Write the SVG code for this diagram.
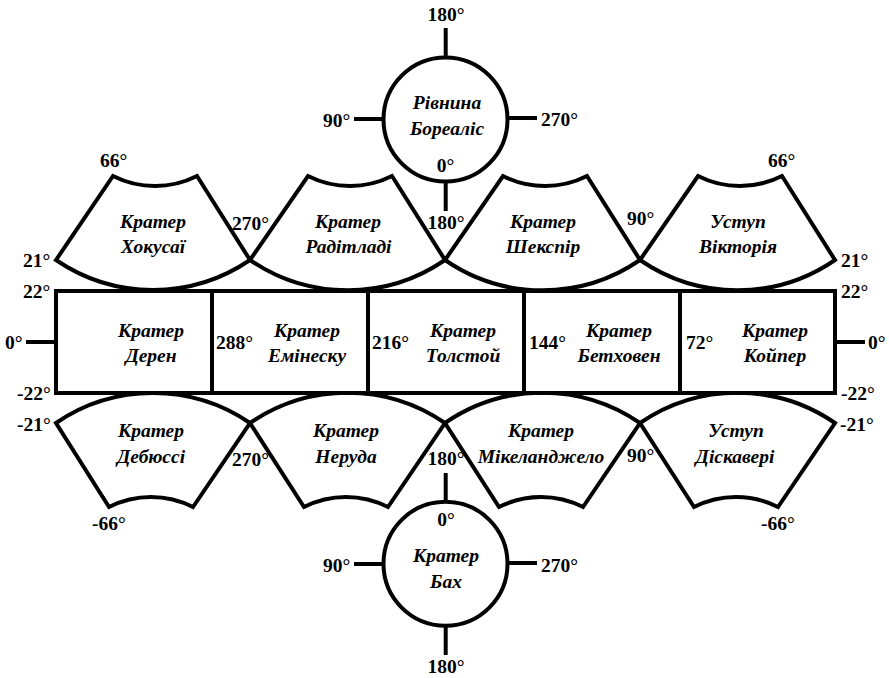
<svg xmlns="http://www.w3.org/2000/svg" width="889" height="678" viewBox="0 0 889 678">
<style>
.s{fill:#fff;stroke:#000;stroke-width:4;stroke-linejoin:miter}
.c line{stroke:#000;stroke-width:4}
text{font-family:"Liberation Serif","Times New Roman",serif;font-weight:bold;font-size:19.5px;fill:#000}
.n{font-style:italic;text-anchor:middle}
.m{text-anchor:middle}
</style>
<rect width="889" height="678" fill="#fff"/>
<g id="connectors" class="c">
<line x1="445.7" y1="28" x2="445.7" y2="58"/><line x1="445.7" y1="181" x2="445.7" y2="211"/>
<line x1="354" y1="119" x2="384" y2="119"/><line x1="507" y1="118" x2="537" y2="118"/>
<line x1="445.7" y1="473" x2="445.7" y2="502"/><line x1="445.7" y1="625" x2="445.7" y2="655"/>
<line x1="354" y1="564" x2="384" y2="564"/><line x1="507" y1="563" x2="537" y2="563"/>
<line x1="26" y1="342" x2="56" y2="342"/><line x1="835" y1="342" x2="865" y2="342"/>
</g>
<g id="top-1"><path class="s" d="M56 260L113 176A93 93 0 0 0 197 176L250 260A172 172 0 0 1 56 260Z"/><text class="n" x="153" y="228">Кратер</text><text class="n" x="153" y="253">Хокусаї</text></g>
<g id="top-2"><path class="s" d="M250 260L308 176A93 93 0 0 0 392 176L445 260A172 172 0 0 1 250 260Z"/><text class="n" x="348" y="228">Кратер</text><text class="n" x="348.500" y="253">Радітладі</text></g>
<g id="top-3"><path class="s" d="M445 260L503 176A93 93 0 0 0 587 176L640 260A172 172 0 0 1 445 260Z"/><text class="n" x="543" y="228">Кратер</text><text class="n" x="543" y="253">Шекспір</text></g>
<g id="top-4"><path class="s" d="M640 260L698 176A93 93 0 0 0 782 176L835 260A172 172 0 0 1 640 260Z"/><text class="n" x="738" y="228">Уступ</text><text class="n" x="738" y="253">Вікторія</text></g>
<g id="bottom-1"><path class="s" d="M56 423A172 172 0 0 1 250 423L193 507A93 93 0 0 0 109 507Z"/><text class="n" x="151" y="437">Кратер</text><text class="n" x="151" y="463">Дебюссі</text></g>
<g id="bottom-2"><path class="s" d="M250 423A172 172 0 0 1 445 423L388 507A93 93 0 0 0 304 507Z"/><text class="n" x="346" y="437">Кратер</text><text class="n" x="346" y="463">Неруда</text></g>
<g id="bottom-3"><path class="s" d="M445 423A172 172 0 0 1 640 423L583 507A93 93 0 0 0 499 507Z"/><text class="n" x="541" y="437">Кратер</text><text class="n" x="541" y="463">Мікеланджело</text></g>
<g id="bottom-4"><path class="s" d="M640 423A172 172 0 0 1 835 423L778 507A93 93 0 0 0 694 507Z"/><text class="n" x="736" y="437">Уступ</text><text class="n" x="735" y="463">Діскавері</text></g>
<g id="rect-1"><rect class="s" x="56" y="291" width="156" height="102"/><text class="n" x="151" y="337">Кратер</text><text class="n" x="151" y="362">Дерен</text></g>
<g id="rect-2"><rect class="s" x="212" y="291" width="156" height="102"/><text class="n" x="307" y="337">Кратер</text><text class="n" x="307" y="362">Емінеску</text></g>
<g id="rect-3"><rect class="s" x="368" y="291" width="156" height="102"/><text class="n" x="463" y="337">Кратер</text><text class="n" x="463" y="362">Толстой</text></g>
<g id="rect-4"><rect class="s" x="524" y="291" width="156" height="102"/><text class="n" x="619" y="337">Кратер</text><text class="n" x="619" y="362">Бетховен</text></g>
<g id="rect-5"><rect class="s" x="680" y="291" width="155" height="102"/><text class="n" x="775" y="337">Кратер</text><text class="n" x="775" y="362">Койпер</text></g>
<g id="circle-top"><circle class="s" cx="445.500" cy="119.500" r="62"/><text class="n" x="447" y="109">Рівнина</text><text class="n" x="447" y="135">Бореаліс</text></g>
<g id="circle-bottom"><circle class="s" cx="445.500" cy="563.700" r="62"/><text class="n" x="446" y="562">Кратер</text><text class="n" x="446" y="588">Бах</text></g>
<g id="labels">
<text class="m" x="446" y="21">180°</text><text x="323" y="127">90°</text><text x="541" y="126">270°</text><text class="m" x="445.500" y="172">0°</text>
<text x="100" y="167">66°</text><text x="768" y="167">66°</text>
<text x="232" y="230">270°</text><text class="m" x="446" y="229">180°</text><text x="627" y="225">90°</text>
<text x="23" y="267">21°</text><text x="841" y="267">21°</text>
<text x="23" y="298">22°</text><text x="841" y="298">22°</text>
<text x="5" y="349">0°</text><text x="868" y="349">0°</text>
<text x="216" y="349">288°</text><text x="372" y="349">216°</text><text x="529" y="349">144°</text><text x="686" y="349">72°</text>
<text x="17" y="400">-22°</text><text x="841" y="400">-22°</text>
<text x="17" y="431">-21°</text><text x="840" y="431">-21°</text>
<text x="232" y="466">270°</text><text class="m" x="446" y="465">180°</text><text x="627" y="462">90°</text>
<text class="m" x="109" y="530">-66°</text><text class="m" x="778" y="530">-66°</text>
<text class="m" x="446" y="526">0°</text><text x="323" y="572">90°</text><text x="541" y="572">270°</text><text class="m" x="446" y="673">180°</text>
</g>
</svg>
